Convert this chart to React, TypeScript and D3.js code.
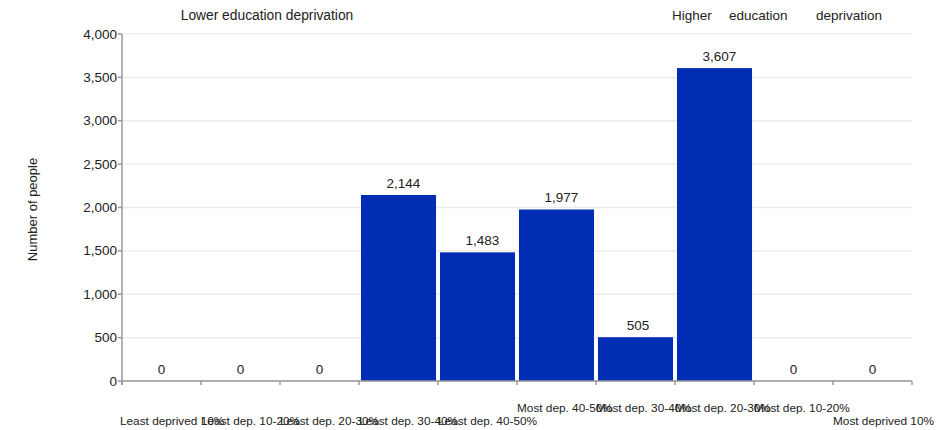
import React from "react";
import * as d3 from "d3";

const categories = [
  "Least deprived 10%",
  "Least dep. 10-20%",
  "Least dep. 20-30%",
  "Least dep. 30-40%",
  "Least dep. 40-50%",
  "Most dep. 40-50%",
  "Most dep. 30-40%",
  "Most dep. 20-30%",
  "Most dep. 10-20%",
  "Most deprived 10%",
];
const values = [0, 0, 0, 2144, 1483, 1977, 505, 3607, 0, 0];
const yTicks = [0, 500, 1000, 1500, 2000, 2500, 3000, 3500, 4000];
// 0 = upper row, 1 = lower row (as in the reference's staggered labels)
const labelRow = [1, 1, 1, 1, 1, 0, 0, 0, 0, 1];
const yTitle = "Number of people";
const leftNote = "Lower education deprivation";
const rightNoteWords = ["Higher", "education", "deprivation"];

const W = 946;
const H = 430;
const M = { left: 122, right: 34, top: 34, bottom: 49 };
const FONT = "'Liberation Sans', Arial, Helvetica, sans-serif";
const BAR = "#002db3";
const AXIS = "#999999";
const GRID = "#ececec";

export default function App() {
  const x = d3
    .scaleBand<string>()
    .domain(categories)
    .range([M.left, W - M.right])
    .paddingInner(0.05)
    .paddingOuter(0.025);
  const y = d3
    .scaleLinear()
    .domain([0, 4000])
    .range([H - M.bottom, M.top]);
  const fmt = d3.format(",");
  const step = (W - M.right - M.left) / categories.length;
  const boundaries = d3.range(categories.length + 1).map((i) => M.left + i * step);
  const y0 = y(0);

  return (
    <svg
      width={W}
      height={H}
      style={{ position: "absolute", left: 0, top: 0, display: "block", background: "#fff" }}
      fontFamily={FONT}
    >
      {/* gridlines */}
      {yTicks.map((t) => (
        <line key={"g" + t} x1={M.left} x2={W - M.right} y1={y(t)} y2={y(t)} stroke={GRID} strokeWidth={1.5} />
      ))}
      {/* bars */}
      {values.map((v, i) => (
        <rect
          key={"b" + i}
          x={x(categories[i])}
          y={y(v)}
          width={x.bandwidth()}
          height={y0 - y(v)}
          fill={BAR}
        />
      ))}
      {/* value labels */}
      {values.map((v, i) => {
        const s = fmt(v);
        return (
          <text
            key={"v" + i}
            x={(x(categories[i]) as number) + x.bandwidth() / 2 + (s.length - 1) * 1.25}
            y={y(v) - 7}
            textAnchor="middle"
            fontSize={13.5}
            fill="#222"
          >
            {s}
          </text>
        );
      })}
      {/* y axis */}
      <line x1={M.left} x2={M.left} y1={M.top} y2={y0 + 4} stroke={AXIS} strokeWidth={1.5} />
      {yTicks.map((t) => (
        <g key={"yt" + t}>
          <line x1={M.left - 4} x2={M.left} y1={y(t)} y2={y(t)} stroke={AXIS} strokeWidth={1.5} />
          <text x={M.left - 5} y={y(t) + 4.5} textAnchor="end" fontSize={13.5} fill="#222">
            {fmt(t)}
          </text>
        </g>
      ))}
      {/* x axis */}
      <line x1={M.left} x2={W - M.right} y1={y0} y2={y0} stroke={AXIS} strokeWidth={1.5} />
      {boundaries.map((bx, i) => (
        <line key={"xt" + i} x1={bx} x2={bx} y1={y0} y2={y0 + 4} stroke={AXIS} strokeWidth={1.5} />
      ))}
      {categories.map((c, i) => (
        <text
          key={"xl" + i}
          x={boundaries[i] - (i === 0 ? 2 : 0)}
          y={labelRow[i] === 0 ? 412 : 425}
          fontSize={11.8}
          fill="#222"
        >
          {c}
        </text>
      ))}
      {/* y title */}
      <text
        transform={`translate(37,${(y(0) + y(4000)) / 2 + 2}) rotate(-90)`}
        textAnchor="middle"
        fontSize={13}
        fill="#222"
      >
        {yTitle}
      </text>
      {/* annotations */}
      <text x={267} y={20} textAnchor="middle" fontSize={13.8} fill="#222">
        {leftNote}
      </text>
      <text y={20} fontSize={13.5} fill="#222">
        <tspan x={672}>{rightNoteWords[0]}</tspan>
        <tspan x={729}>{rightNoteWords[1]}</tspan>
        <tspan x={816}>{rightNoteWords[2]}</tspan>
      </text>
    </svg>
  );
}
